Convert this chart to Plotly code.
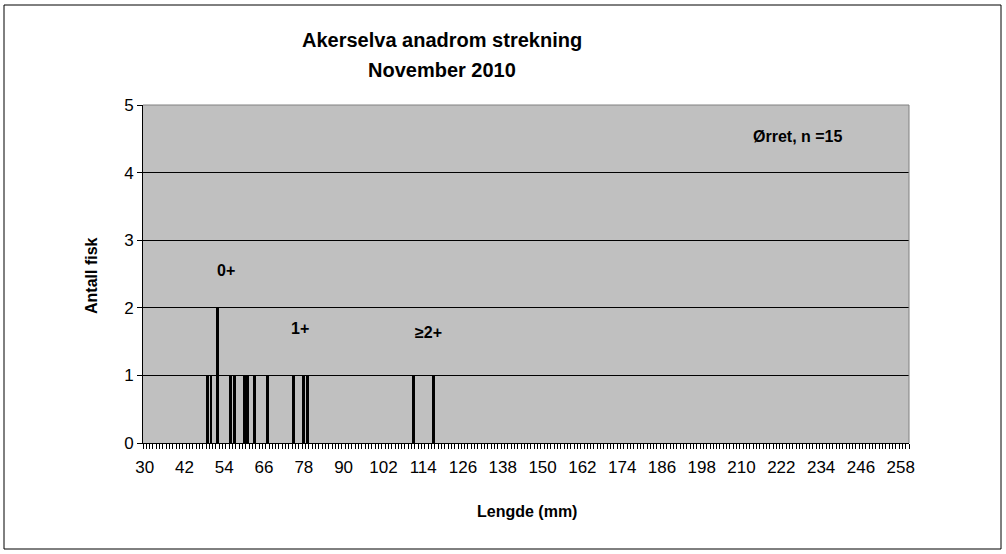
import plotly.graph_objects as go

# Length (mm) and number of fish
lengths = [49, 50, 52, 56, 57, 60, 61, 63, 67, 75, 78, 79, 111, 117]
counts = [1, 1, 2, 1, 1, 1, 1, 1, 1, 1, 1, 1, 1, 1]

x_ticks = list(range(30, 259, 12))
y_ticks = [0, 1, 2, 3, 4, 5]

FONT = "Liberation Sans, Arial, sans-serif"
PLOT_BG = "#C0C0C0"

# plot area in pixels
L, R, T, B = 143, 909, 105, 443
W, H = 1006, 554
pw, ph = R - L, B - T


def px(x):
    return (x - L) / pw


def py(y):
    return (B - y) / ph


fig = go.Figure()
fig.add_trace(go.Bar(
    x=lengths, y=counts,
    width=0.85,
    marker=dict(color="black", line=dict(width=0)),
    showlegend=False,
))

fig.update_layout(
    width=W, height=H,
    margin=dict(l=L, r=W - R, t=T, b=H - B),
    paper_bgcolor="white",
    plot_bgcolor=PLOT_BG,
    font=dict(family=FONT, color="black", size=16),
    bargap=0,
    xaxis=dict(
        range=[29.5, 260.5],
        tickvals=x_ticks,
        ticks="outside", ticklen=0,
        ticklabelstandoff=9,
        showgrid=False, zeroline=False,
        showline=True, linecolor="black", linewidth=1,
        tickfont=dict(size=17),
        minor=dict(dtick=1, tick0=29.5, ticks="outside", ticklen=5,
                   tickcolor="black", tickwidth=1, showgrid=False),
    ),
    yaxis=dict(
        range=[0, 5],
        tickvals=y_ticks,
        ticks="outside", ticklen=5, tickcolor="black",
        showgrid=True, gridcolor="black", gridwidth=1,
        zeroline=False,
        showline=True, linecolor="black", linewidth=1,
        tickfont=dict(size=17),
    ),
)

# top and right border of plot area (grey)
fig.add_shape(type="line", xref="paper", yref="paper", x0=0, x1=1, y0=1, y1=1,
              line=dict(color="#808080", width=1), layer="above")
fig.add_shape(type="line", xref="paper", yref="paper", x0=1, x1=1, y0=0, y1=1,
              line=dict(color="#808080", width=1), layer="above")
# outer chart border
fig.add_shape(type="rect", xref="paper", yref="paper",
              x0=px(4), x1=px(1001), y0=py(549), y1=py(5),
              line=dict(color="black", width=1), layer="below")

# title
fig.add_annotation(xref="paper", yref="paper", x=px(442), y=py(40),
                   text="<b>Akerselva anadrom strekning</b>",
                   showarrow=False, font=dict(size=20),
                   xanchor="center", yanchor="middle")
fig.add_annotation(xref="paper", yref="paper", x=px(442), y=py(70),
                   text="<b>November 2010</b>",
                   showarrow=False, font=dict(size=20),
                   xanchor="center", yanchor="middle")

# axis titles
fig.add_annotation(xref="paper", yref="paper", x=px(527), y=py(511),
                   text="<b>Lengde (mm)</b>", showarrow=False, font=dict(size=16),
                   xanchor="center", yanchor="middle")
fig.add_annotation(xref="paper", yref="paper", x=px(91), y=py(276),
                   text="<b>Antall fisk</b>", showarrow=False, font=dict(size=16),
                   textangle=-90, xanchor="center", yanchor="middle")

labels = [("Ørret, n =15", 797, 136), ("0+", 226, 270), ("1+", 300, 328), ("≥2+", 428, 332)]
for txt, lx, ly in labels:
    fig.add_annotation(xref="paper", yref="paper", x=px(lx), y=py(ly),
                       text=f"<b>{txt}</b>", showarrow=False, font=dict(size=16),
                       xanchor="center", yanchor="middle")

fig.write_html("out.html", config={"displayModeBar": False},
               post_script="document.body.style.margin='0';")
